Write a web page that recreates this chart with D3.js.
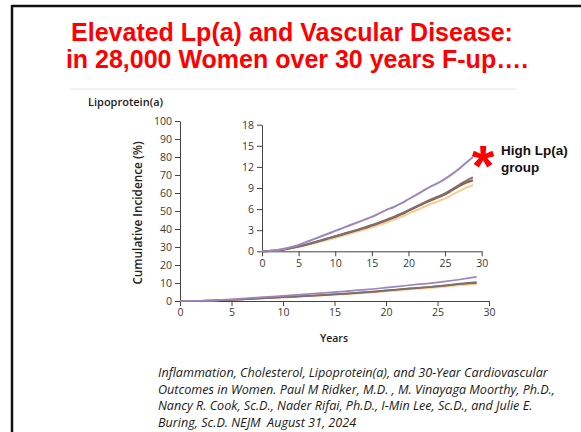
<!DOCTYPE html>
<html>
<head>
<meta charset="utf-8">
<script src="https://d3js.org/d3.v7.min.js"></script>
<style>
  body { margin: 0; background: #fff; }
  svg { display: block; }
  .tick text { font-family: 'Open Sans', sans-serif; font-size: 10.5px; fill: #3a3a3a; }
  .tick line, .domain { stroke: #444; }
  .cite text { white-space: pre; }
</style>
</head>
<body>
<svg id="chart" width="581" height="432"></svg>
<script>
// follow-up years and cumulative incidence (%) per Lp(a) group
var years = [0, 1, 2, 3, 4, 5, 6, 7, 8, 9, 10, 11, 12, 13, 14, 15, 16, 17, 18, 19, 20, 21, 22, 23, 24, 25, 26, 27, 28, 28.8];
var highLpa = [0, 0.05, 0.15, 0.35, 0.6, 0.9, 1.3, 1.7, 2.1, 2.5, 2.9, 3.3, 3.7, 4.1, 4.5, 4.9, 5.4, 5.9, 6.3, 6.8, 7.4, 8.0, 8.6, 9.2, 9.7, 10.3, 11.0, 11.8, 12.7, 13.4];
var groupGray = [0, 0.05, 0.12, 0.28, 0.48, 0.7, 0.95, 1.25, 1.55, 1.85, 2.15, 2.45, 2.75, 3.05, 3.4, 3.75, 4.1, 4.5, 4.9, 5.35, 5.85, 6.35, 6.85, 7.35, 7.75, 8.25, 8.85, 9.5, 10.1, 10.5];
var groupRed = [0, 0.05, 0.12, 0.27, 0.46, 0.68, 0.92, 1.2, 1.5, 1.8, 2.1, 2.4, 2.7, 3.0, 3.3, 3.65, 4.0, 4.4, 4.8, 5.25, 5.75, 6.25, 6.75, 7.2, 7.65, 8.1, 8.7, 9.3, 9.8, 10.1];
var groupOrange = [0, 0.04, 0.1, 0.24, 0.42, 0.62, 0.85, 1.1, 1.38, 1.65, 1.9, 2.2, 2.5, 2.8, 3.1, 3.4, 3.75, 4.1, 4.5, 4.9, 5.35, 5.8, 6.25, 6.7, 7.1, 7.5, 8.05, 8.6, 9.1, 9.4];
var seriesValues = [groupOrange, groupRed, groupGray, highLpa];
var seriesColors = ["#f6cf8e", "#b24a3c", "#767272", "#9d86bd"];
var mainYTicks = [0, 10, 20, 30, 40, 50, 60, 70, 80, 90, 100];
var insetYTicks = [0, 3, 6, 9, 12, 15, 18];
var xTicks = [0, 5, 10, 15, 20, 25, 30];
var citation = [
  "Inflammation, Cholesterol, Lipoprotein(a), and 30-Year Cardiovascular",
  "Outcomes in Women. Paul M Ridker, M.D. , M. Vinayaga Moorthy, Ph.D.,",
  "Nancy R. Cook, Sc.D., Nader Rifai, Ph.D., I-Min Lee, Sc.D., and Julie E.",
  "Buring, Sc.D. NEJM  August 31, 2024"
];
var citationY = [377, 394, 410, 427];

var svg = d3.select("#chart");

// slide frame
svg.append("line").attr("x1", 12).attr("x2", 581).attr("y1", 6).attr("y2", 6)
  .attr("stroke", "#111").attr("stroke-width", 2.5);
svg.append("line").attr("x1", 12).attr("x2", 12).attr("y1", 5).attr("y2", 432)
  .attr("stroke", "#111").attr("stroke-width", 2.5);

// title
var title = svg.append("text").attr("text-anchor", "middle")
  .attr("font-family", "'Liberation Sans', Arial, sans-serif").attr("font-weight", "bold")
  .attr("font-size", 25).attr("fill", "#f00");
title.append("tspan").attr("x", 292).attr("y", 41).text("Elevated Lp(a) and Vascular Disease:");
title.append("tspan").attr("x", 297).attr("y", 68).text("in 28,000 Women over 30 years F-up\u2026.");

svg.append("line").attr("x1", 70).attr("x2", 517).attr("y1", 89).attr("y2", 89)
  .attr("stroke", "#e4e4e4");

svg.append("text").attr("x", 88).attr("y", 106)
  .attr("font-family", "'Open Sans', sans-serif").attr("font-weight", 600)
  .attr("font-size", 11).attr("fill", "#222").text("Lipoprotein(a)");

// main plot
var x = d3.scaleLinear().domain([0, 30]).range([180, 489]);
var y = d3.scaleLinear().domain([0, 100]).range([301, 121]);

svg.append("g").attr("transform", "translate(0,301)")
  .call(d3.axisBottom(x).tickValues(xTicks).tickSize(5).tickSizeOuter(0));
svg.append("g").attr("transform", "translate(180,0)")
  .call(d3.axisLeft(y).tickValues(mainYTicks).tickSize(5).tickSizeOuter(0));

var mainLine = d3.line().x(function (d, i) { return x(years[i]); }).y(function (d) { return y(d); });
svg.append("g").selectAll("path").data(seriesValues).join("path")
  .attr("d", mainLine).attr("fill", "none")
  .attr("stroke", function (d, i) { return seriesColors[i]; }).attr("stroke-width", 1.7);

svg.append("text").attr("transform", "translate(142,213) rotate(-90)").attr("text-anchor", "middle")
  .attr("font-family", "'Open Sans', sans-serif").attr("font-weight", 600)
  .attr("font-size", 11.8).attr("fill", "#222").text("Cumulative Incidence (%)");
svg.append("text").attr("x", 334).attr("y", 342).attr("text-anchor", "middle")
  .attr("font-family", "'Open Sans', sans-serif").attr("font-weight", 600)
  .attr("font-size", 10.5).attr("fill", "#222").text("Years");

// inset
var xi = d3.scaleLinear().domain([0, 30]).range([262, 481.7]);
var yi = d3.scaleLinear().domain([0, 18]).range([251.3, 124.7]);

svg.append("g").attr("transform", "translate(0,251.3)")
  .call(d3.axisBottom(xi).tickValues(xTicks).tickSize(5).tickSizeOuter(0));
svg.append("g").attr("transform", "translate(262,0)")
  .call(d3.axisLeft(yi).tickValues(insetYTicks).tickSize(5).tickSizeOuter(0));

var insetLine = d3.line().curve(d3.curveMonotoneX)
  .x(function (d, i) { return xi(years[i]); }).y(function (d) { return yi(d); });
svg.append("g").selectAll("path").data(seriesValues).join("path")
  .attr("d", insetLine).attr("fill", "none")
  .attr("stroke", function (d, i) { return seriesColors[i]; }).attr("stroke-width", 2);

// annotation
svg.append("text").attr("x", 483).attr("y", 186).attr("text-anchor", "middle")
  .attr("font-family", "'Liberation Sans', Arial, sans-serif").attr("font-weight", "bold")
  .attr("font-size", 58).attr("fill", "#f00").text("*");
var note = svg.append("text").attr("font-family", "'Liberation Sans', Arial, sans-serif")
  .attr("font-weight", "bold").attr("font-size", 13.5).attr("fill", "#111");
note.append("tspan").attr("x", 501).attr("y", 155).text("High Lp(a)");
note.append("tspan").attr("x", 501).attr("y", 172).text("group");

// citation, squeezed horizontally so the first line spans the same width as the slide
var cite = svg.append("g").attr("class", "cite");
cite.selectAll("text").data(citation).join("text")
  .attr("x", 0).attr("y", function (d, i) { return citationY[i]; })
  .attr("font-family", "'Open Sans', sans-serif").attr("font-style", "italic")
  .attr("font-size", 12.5).attr("fill", "#1a1a1a").text(function (d) { return d; });
var firstWidth = cite.select("text").node().getComputedTextLength();
var sx = 390 / firstWidth;
cite.attr("transform", "translate(158,0) scale(" + sx + ",1)");
</script>
</body>
</html>
